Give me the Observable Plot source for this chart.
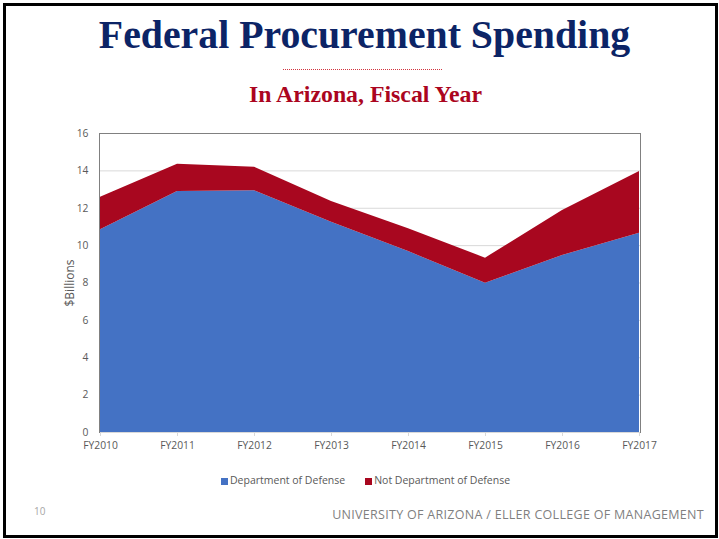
<!DOCTYPE html>
<html>
<head>
<meta charset="utf-8">
<script src="https://cdn.jsdelivr.net/npm/d3@7"></script>
<script src="https://cdn.jsdelivr.net/npm/@observablehq/plot@0.6"></script>
<style>
  html, body { margin: 0; padding: 0; background: #fff; }
  #slide { position: relative; width: 719px; height: 539px; overflow: hidden; background: #fff; }
  #border { position: absolute; left: 3px; top: 3px; width: 709px; height: 529px; border: 3px solid #000; }
  #title { position: absolute; left: 5px; width: 719px; top: 12px; text-align: center;
    font-family: "Liberation Serif", "Times New Roman", serif; font-weight: bold; font-size: 39.8px; color: #0c2466; }
  #dots { position: absolute; left: 283px; top: 69px; width: 160px; height: 1px;
    background: repeating-linear-gradient(to right, #d2343f 0px, #d2343f 1px, transparent 1px, transparent 2px); }
  #subtitle { position: absolute; left: 6px; width: 719px; top: 81px; text-align: center;
    font-family: "Liberation Serif", "Times New Roman", serif; font-weight: bold; font-size: 23.8px; color: #ab0520; }
  #chart { position: absolute; left: 0; top: 120px; }
  #legend { position: absolute; left: 6px; width: 719px; top: 473px; text-align: center;
    font-family: "Open Sans", sans-serif; font-size: 10.5px; color: #595959; }
  #legend span.item { display: inline-block; margin: 0 10px; }
  #legend span.sw { display: inline-block; width: 7px; height: 7px; margin-right: 2px; vertical-align: -0.5px; }
  #pagenum { position: absolute; left: 34px; top: 504px; font-family: "Open Sans", sans-serif; font-size: 10px; color: #a6a6a6; }
  #footer { position: absolute; right: 15px; top: 506px; font-family: "Open Sans", sans-serif; font-size: 12.5px;
    color: #7f7f7f; letter-spacing: 0.3px; }
</style>
</head>
<body>
<div id="slide">
  <div id="border"></div>
  <div id="title">Federal Procurement Spending</div>
  <div id="dots"></div>
  <div id="subtitle">In Arizona, Fiscal Year</div>
  <div id="chart"></div>
  <div id="legend"></div>
  <div id="pagenum">10</div>
  <div id="footer">UNIVERSITY OF ARIZONA / ELLER COLLEGE OF MANAGEMENT</div>
</div>
<script>
const years = ["FY2010", "FY2011", "FY2012", "FY2013", "FY2014", "FY2015", "FY2016", "FY2017"];
const dod = [10.85, 12.9, 12.93, 11.25, 9.68, 7.99, 9.47, 10.66];
const nonDod = [1.74, 1.46, 1.27, 1.11, 1.22, 1.34, 2.41, 3.3];
const seriesNames = ["Department of Defense", "Not Department of Defense"];
const seriesColors = ["#4472c4", "#a8071f"];
const yTicks = [0, 2, 4, 6, 8, 10, 12, 14, 16];

const data = [];
years.forEach((y, i) => data.push({year: y, series: seriesNames[0], value: dod[i]}));
years.forEach((y, i) => data.push({year: y, series: seriesNames[1], value: nonDod[i]}));

const chart = Plot.plot({
  width: 719,
  height: 380,
  marginLeft: 99,
  marginRight: 79,
  marginTop: 13,
  marginBottom: 68,
  style: { fontFamily: "Open Sans, sans-serif", fontSize: "10.3px", color: "#595959", background: "transparent" },
  x: { type: "point", domain: years, padding: 0 },
  y: { domain: [0, 16] },
  color: { domain: seriesNames, range: seriesColors },
  marks: [
    Plot.gridY(yTicks, { stroke: "#d9d9d9", strokeOpacity: 1 }),
    Plot.areaY(data, { x: "year", y: "value", fill: "series", z: "series" }),
    Plot.ruleY([0], { stroke: "#d9d9d9" }),
    Plot.frame({ anchor: "top", stroke: "#808080" }),
    Plot.frame({ anchor: "left", stroke: "#808080" }),
    Plot.frame({ anchor: "right", stroke: "#808080" }),
    Plot.axisX({ tickSize: 4, tickPadding: 5, stroke: "#d9d9d9", label: null }),
    Plot.axisY(yTicks, { tickSize: 0, tickPadding: 11, label: null }),
    Plot.axisY({ ticks: [], tickSize: 0, label: "$Billions", labelAnchor: "center",
      labelArrow: "none", labelOffset: 34, fontSize: 12 })
  ]
});
document.getElementById("chart").appendChild(chart);

const legend = document.getElementById("legend");
seriesNames.forEach((name, i) => {
  const item = document.createElement("span");
  item.className = "item";
  const sw = document.createElement("span");
  sw.className = "sw";
  sw.style.background = seriesColors[i];
  item.appendChild(sw);
  item.appendChild(document.createTextNode(name));
  legend.appendChild(item);
});
</script>
</body>
</html>
